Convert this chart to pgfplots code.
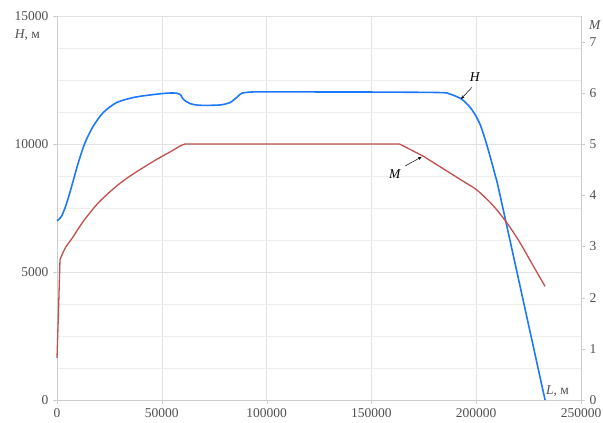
\documentclass[border=0pt]{standalone}
\usepackage{fontspec}
\setmainfont{Liberation Serif}
\usepackage{pgfplots}
\pgfplotsset{compat=1.18}
\usetikzlibrary{arrows.meta}
\definecolor{hblue}{RGB}{30,120,255}
\definecolor{mred}{RGB}{192,80,77}
\definecolor{gridc}{RGB}{226,226,226}
\definecolor{mgridc}{RGB}{238,238,238}
\definecolor{axc}{RGB}{205,205,205}
\definecolor{txt}{RGB}{80,80,80}
\begin{document}
\begin{tikzpicture}[font=\fontsize{13.5}{15}\selectfont]
\pgfplotsset{
  common/.style={
    scale only axis, width=524pt, height=384pt,
    xmin=0, xmax=250000,
    scaled ticks=false,
    /pgf/number format/1000 sep={},
    /pgf/number format/fixed,
    /pgf/number format/assume math mode=true,
    axis line style={axc}, tick style={axc},
    tick align=outside, major tick length=4pt, minor tick length=0pt,
    ticklabel style={text=txt},
    clip=false,
  }
}
\begin{axis}[common, name=ax,
  ymin=0, ymax=15000,
  xtick={0,50000,100000,150000,200000,250000},
  ytick={0,5000,10000,15000},
  minor ytick={1250,2500,3750,6250,7500,8750,11250,12500,13750},
  grid=both, major grid style={gridc}, minor grid style={mgridc},
  axis x line*=bottom, axis y line*=left,
  xticklabel style={yshift=-1pt},
  yticklabel style={xshift=-1pt},
]
\addplot[hblue, line width=1.6pt, smooth, tension=0.5] coordinates {
(0,7000) (1970,7150) (3818,7500) (5418,7900) (7013,8350) (10165,9270)
(13366,10050) (17326,10700) (22094,11230) (28486,11620) (36415,11815)
(44384,11915) (52353,11985) (57130,11985) (58903,11930) (60272,11746)
(63473,11580) (68241,11513) (77785,11525) (82563,11619) (84218,11720)
(85754,11815) (88148,11983) (93683,12034) (101652,12034) (147750,12030)
(182225,12010) (187150,11960) (192321,11790) (194538,11650) (197000,11440)
(199463,11150) (201925,10750) (204388,10150) (206850,9450) (209313,8700)
(211775,7850) (232854,0)
};
\node[anchor=east, text=txt] at (rel axis cs:-0.026,0.95) {\textit{H}, м};
\node[anchor=center, text=txt] at (rel axis cs:0.955,0.023) {\textit{L}, м};
\node[anchor=center] at (axis cs:199460,12610) {\textit{H}};
\draw[-{Stealth[length=4pt,width=3pt]}, line width=0.5pt] (axis cs:197900,12206) -- (axis cs:192670,11750);
\end{axis}
\begin{axis}[common,
  ymin=0, ymax=7.5,
  axis x line=none, axis y line*=right,
  ytick={0,1,2,3,4,5,6,7},
  yticklabel style={xshift=1pt},
]
\addplot[mred, line width=1.3pt] coordinates {
(0,0.82) (690,1.70) (1428,2.74)
};
\addplot[mred, line width=1.3pt, smooth, tension=0.5] coordinates {
(1428,2.74) (3940,2.97) (7388,3.17) (12549,3.49)
(19710,3.85) (27580,4.15) (33263,4.33) (39607,4.50) (47576,4.70)
(54175,4.85) (58696,4.96) (61070,5.0)
};
\addplot[mred, line width=1.3pt] coordinates {
(61070,5.0) (163412,5.0) (174838,4.76) (192321,4.31) (198675,4.15)
};
\addplot[mred, line width=1.3pt, smooth, tension=0.5] coordinates {
(198675,4.15) (201827,4.05) (208229,3.79) (214632,3.46)
(220936,3.07) (227338,2.61) (232854,2.22)
};
\node[anchor=center, text=txt] at (rel axis cs:1.027,0.977) {\textit{M}};
\node[anchor=center] at (axis cs:161343,4.41) {\textit{M}};
\draw[-{Stealth[length=4pt,width=3pt]}, line width=0.5pt] (axis cs:166071,4.57) -- (axis cs:174050,4.75);
\end{axis}
\pgfresetboundingbox
\path ([xshift=-57pt,yshift=-23pt]ax.south west) rectangle ([xshift=22pt,yshift=16pt]ax.north east);
\end{tikzpicture}
\end{document}
